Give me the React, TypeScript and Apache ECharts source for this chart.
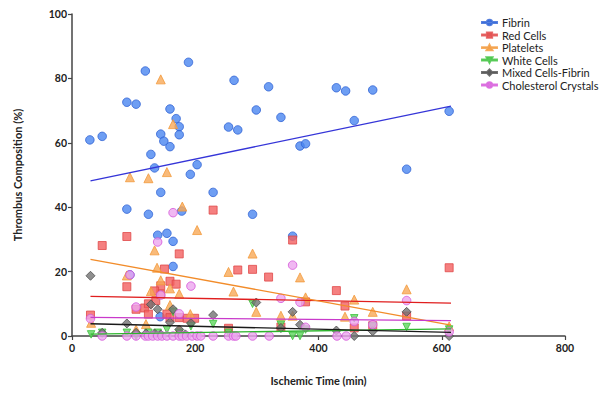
import React, { useEffect, useRef } from "react";
import * as echarts from "echarts";

const seriesNames = ["Fibrin", "Red Cells", "Platelets", "White Cells", "Mixed Cells-Fibrin", "Cholesterol Crystals"];

const fibrin = [[29,60.9],[49,62],[89,72.6],[89,39.4],[104,72],[119,82.3],[124,37.8],[128,56.4],[134,52.2],[139,31.3],[143,6],[144,62.7],[144,44.6],[149,60.5],[154,31.9],[159,70.5],[159,58.8],[164,29.4],[164,21.6],[169,67.5],[174,65],[174,62.5],[178,38.8],[189,85],[192,50.2],[203,53.2],[229,44.6],[254,64.9],[263,79.4],[269,64],[293,37.8],[299,70.2],[319,77.4],[339,67.9],[358,31],[370,59],[379,59.7],[429,77.1],[444,76.1],[458,66.9],[488,76.4],[543,51.8],[612,69.8],[94,19]];
const redCells = [[30,6.5],[49,28.1],[89,30.9],[89,15.3],[104,8.3],[118,8.7],[124,6.8],[136,11],[144,15.6],[144,13],[150,20.8],[154,6.8],[159,17],[159,5.7],[169,16.1],[174,25.5],[174,5.7],[187,5.5],[199,5.5],[229,39.1],[254,2.4],[269,20.5],[293,20.7],[319,18.3],[339,2.8],[358,29.8],[379,10.6],[429,14.1],[443,9.3],[458,2.5],[488,3.2],[543,6.2],[612,21.2],[124,10],[134,14]];
const platelets = [[31,4.1],[89,18.8],[94,49.3],[120,3.7],[124,49],[128,13.9],[134,26.6],[138,21.2],[144,79.7],[144,17.3],[154,50.9],[159,14.8],[159,9.6],[164,65.8],[174,13.1],[179,40.2],[192,6.8],[203,32.9],[254,19.9],[262,13.8],[293,25.6],[299,7.5],[339,6.3],[358,6.3],[370,18.2],[379,12],[443,6],[458,11.3],[488,7.5],[543,14.5],[612,3],[104,2],[174,2]];
const whiteCells = [[31,0.5],[49,1],[89,1],[104,0],[124,1],[139,1],[154,2],[164,7.5],[174,1],[193,3],[229,3.7],[254,1],[293,10],[339,3.5],[358,0],[370,0],[379,2],[458,5.5],[488,3],[543,2.8],[612,2]];
const mixedCells = [[30,18.7],[49,1],[89,3.9],[104,1],[120,0.8],[128,9.8],[134,0.8],[139,8.3],[159,4.3],[164,8.3],[174,2],[193,4],[229,6.5],[299,10.4],[339,2.5],[358,7.5],[370,3.5],[429,1.7],[458,0],[488,1.5],[543,7.5],[612,0],[144,0.5],[184,0.5]];
const cholesterol = [[30,5.4],[49,0],[89,0],[94,19],[104,9],[104,0],[119,0],[124,0],[131,0],[139,29.2],[139,0],[144,12.7],[146,0],[154,0],[164,38.3],[164,0],[174,6.9],[174,0],[179,0],[186,0],[193,15.5],[195,0],[203,0],[209,0],[229,0],[254,0],[262,0],[266,0],[293,0],[320,0],[339,11.7],[358,22],[370,10.5],[379,2.7],[430,0],[445,0],[458,4.5],[488,3.5],[543,11],[612,1.3]];

// trend line endpoints
const trendX = [30, 615];
const fibrinTrend = [48.2, 71.4];
const redTrend = [12.3, 10.2];
const plateletTrend = [23.8, 3.4];
const whiteTrend = [0.6, 2.2];
const mixedTrend = [3.8, 1.1];
const cholesterolTrend = [5.8, 4.8];

const xTicks = { min: 0, max: 800, interval: 200 };
const yTicks = { min: 0, max: 100, interval: 20 };

const LINE = "M0,4.4h20v1.2h-20z ";
const icons = [
  LINE + "M10,5m-3.6,0a3.6,3.6 0 1,0 7.2,0a3.6,3.6 0 1,0 -7.2,0z",
  LINE + "M6.5,1.5h7v7h-7z",
  LINE + "M10,1.2L14,8.6L6,8.6z",
  LINE + "M10,8.8L14,1.4L6,1.4z",
  LINE + "M10,1L14,5L10,9L6,5z",
  LINE + "M10,5m-3.6,0a3.6,3.6 0 1,0 7.2,0a3.6,3.6 0 1,0 -7.2,0z",
];

const styles = [
  { symbol: "circle", size: 8.5, color: "#4a86f0", border: "#2e62d4", line: "#3535d8" },
  { symbol: "rect", size: 8, color: "#f26060", border: "#e04848", line: "#e01e1e" },
  { symbol: "triangle", size: 9, color: "#f7a957", border: "#f39a3c", line: "#f28c2a" },
  { symbol: "path://M0,0L10,0L5,9z", size: 7.5, color: "#5fd65f", border: "#3cc03c", line: "#2db52d" },
  { symbol: "diamond", size: 9, color: "#737373", border: "#4f4f4f", line: "#1a1a1a" },
  { symbol: "circle", size: 8.5, color: "#eca6ef", border: "#d455da", line: "#c93acb" },
];

const dataSets = [fibrin, redCells, platelets, whiteCells, mixedCells, cholesterol];
const trends = [fibrinTrend, redTrend, plateletTrend, whiteTrend, mixedTrend, cholesterolTrend];

export default function App() {
  const ref = useRef<HTMLDivElement>(null);
  useEffect(() => {
    if (!ref.current) return;
    const chart = echarts.init(ref.current, null, { renderer: "svg" });
    const font = "Lato, 'Open Sans', sans-serif";
    const scatter = dataSets.map((d, i) => ({
      name: seriesNames[i],
      type: "scatter",
      data: d,
      symbol: styles[i].symbol,
      symbolSize: styles[i].size,
      itemStyle: { color: styles[i].color, borderColor: styles[i].border, borderWidth: 1 },
      z: 3 + i,
    }));
    const lines = trends.map((t, i) => ({
      name: seriesNames[i] + " trend",
      type: "line",
      data: [[trendX[0], t[0]], [trendX[1], t[1]]],
      showSymbol: false,
      symbol: "none",
      lineStyle: { color: styles[i].line, width: 1.3 },
      z: 10,
      silent: true,
    }));
    chart.setOption({
      animation: false,
      backgroundColor: "#ffffff",
      grid: { left: 72, top: 14, width: 493, height: 322, containLabel: false },
      legend: {
        orient: "vertical",
        left: 476,
        top: 12,
        itemWidth: 15,
        itemHeight: 8,
        itemGap: 1.5,
        textStyle: { fontSize: 11, fontFamily: font, color: "#222" },
        data: seriesNames.map((n, i) => ({ name: n, icon: "path://" + icons[i], itemStyle: { color: styles[i].color } })),
      },
      xAxis: {
        type: "value",
        min: xTicks.min,
        max: xTicks.max,
        interval: xTicks.interval,
        name: "Ischemic Time (min)",
        nameLocation: "middle",
        nameGap: 39,
        nameTextStyle: { fontSize: 11, fontWeight: "bold", fontFamily: font, color: "#222" },
        axisLine: { show: true, lineStyle: { color: "#444", width: 1.5 } },
        axisTick: { show: true, length: 4, lineStyle: { color: "#444", width: 1.2 } },
        axisLabel: { fontSize: 10.5, fontWeight: "bold", fontFamily: font, color: "#222", margin: 6 },
        splitLine: { show: false },
      },
      yAxis: {
        type: "value",
        min: yTicks.min,
        max: yTicks.max,
        interval: yTicks.interval,
        name: "Thrombus Composition (%)",
        nameLocation: "middle",
        nameGap: 49,
        nameRotate: 90,
        nameTextStyle: { fontSize: 11, fontWeight: "bold", fontFamily: font, color: "#222" },
        axisLine: { show: true, lineStyle: { color: "#444", width: 1.5 } },
        axisTick: { show: true, length: 4, lineStyle: { color: "#444", width: 1.2 } },
        axisLabel: { fontSize: 10.5, fontWeight: "bold", fontFamily: font, color: "#222", margin: 5 },
        splitLine: { show: false },
      },
      series: [...scatter, ...lines],
    });
    return () => chart.dispose();
  }, []);
  return <div ref={ref} style={{ position: "fixed", left: 0, top: 0, width: 603, height: 394 }} />;
}
